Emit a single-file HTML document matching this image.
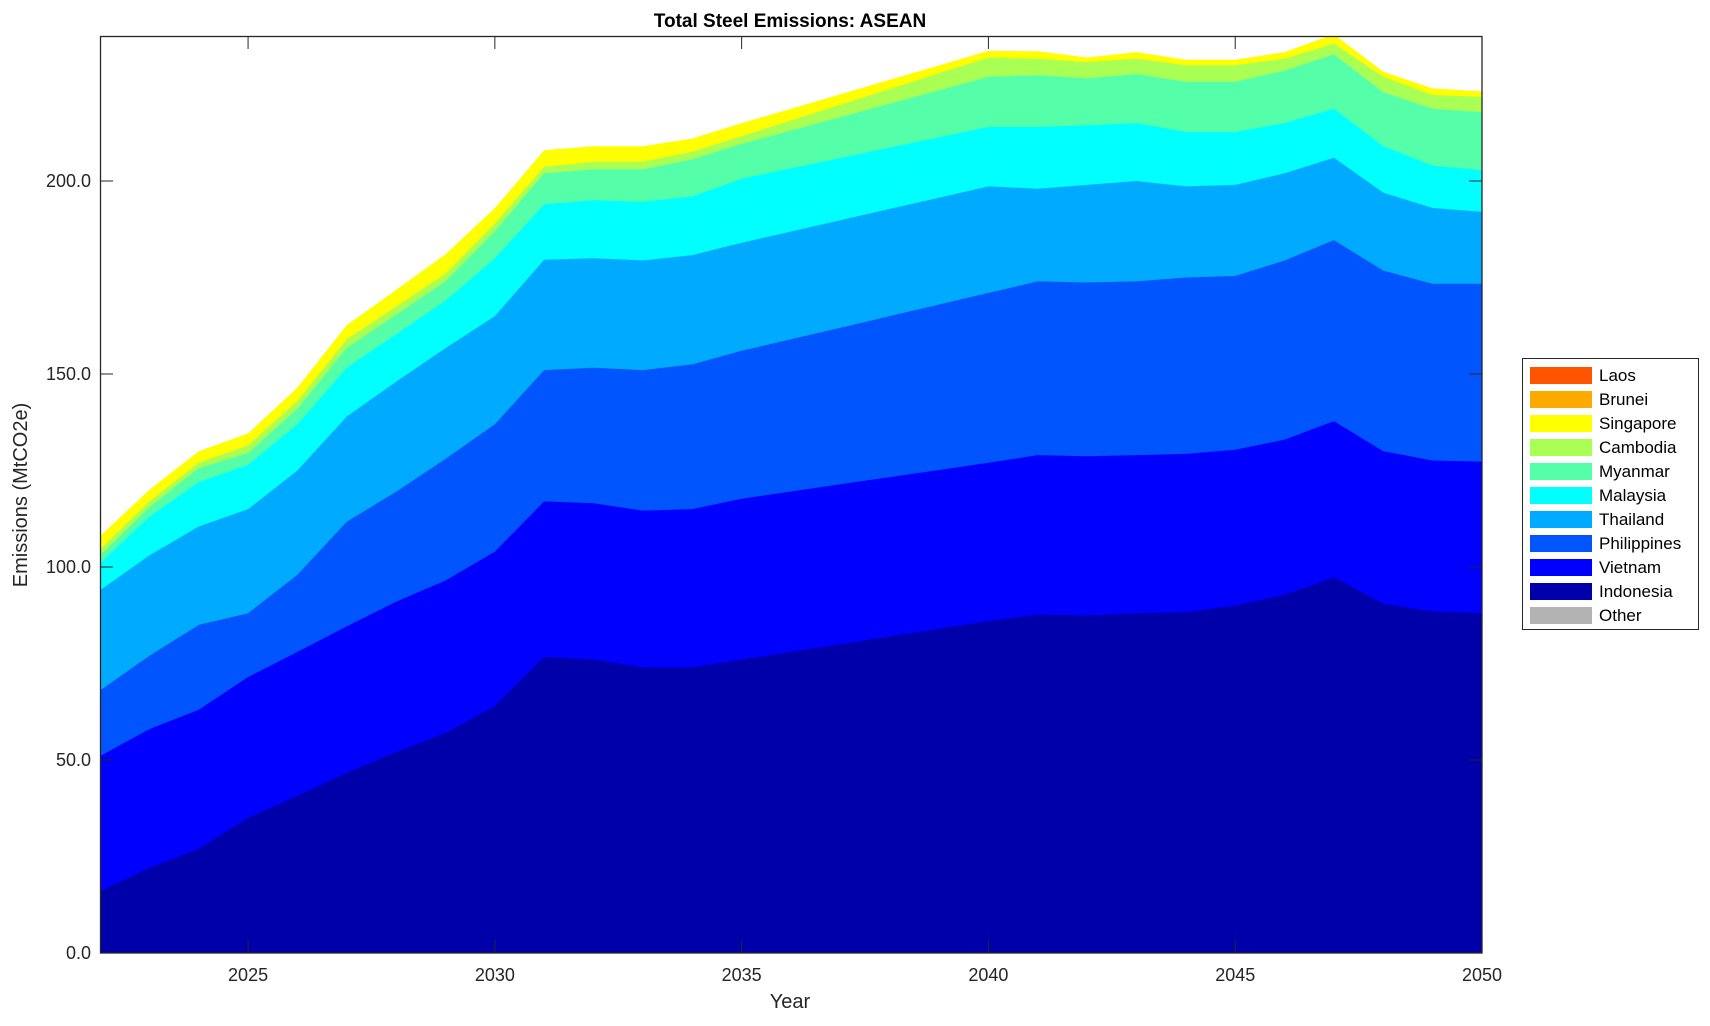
<!DOCTYPE html>
<html><head><meta charset="utf-8"><style>
body{margin:0;background:#fff;}
svg text{font-family:"Liberation Sans",Arial,sans-serif;fill:#262626;}
</style></head><body>
<svg id="s" width="1710" height="1021" xmlns="http://www.w3.org/2000/svg">
<defs><clipPath id="c"><rect x="100" y="36" width="1382" height="917"/></clipPath></defs>
<g id="areas" clip-path="url(#c)"></g>
<g id="axes"></g>
<text x="790" y="27" text-anchor="middle" font-size="19" font-weight="bold" style="fill:#000">Total Steel Emissions: ASEAN</text>
<text x="790" y="1008" text-anchor="middle" font-size="20">Year</text>
<text transform="translate(27,495) rotate(-90)" text-anchor="middle" font-size="20">Emissions (MtCO2e)</text>
<rect x="1522.5" y="358.5" width="176" height="271" fill="#fff" stroke="#262626" stroke-width="1"/>
<g id="leg"></g>
</svg>
<script>
var yrs=[],d={
2022:[16,51,68,94,101,103,104.5,108],
2023:[22,58,77,103,113,115.5,117,120],
2024:[27,63,85,110.5,122,125.6,127,130],
2025:[35,71.5,88,115,126.5,129.5,131.5,134.6],
2026:[40.7,78,98,125,137,141,143,146.5],
2027:[46.7,84.6,111.7,139,151.6,156.7,159,162.7],
2028:[52,91,119.5,148,160.3,165.4,167.5,171.8],
2029:[57,96.5,128,156.7,169,174,176,181],
2030:[64,104,137,165,180,187,189,193],
2031:[76.7,117,151,179.6,194,202,203.7,208],
2032:[76,116.5,151.6,180,195,203,205,209],
2033:[74,114.6,151,179.4,194.6,203,205,209],
2034:[74,115,152.5,180.8,196,205.6,207.6,211],
2035:[76,117.7,156,184,200.6,209.6,211.6,215],
2040:[86,127,171,198.6,214,227,232,233.7],
2041:[87.7,129,174,198,214,227.4,231.7,233.6],
2042:[87.4,128.7,173.7,199,214.4,226.6,230.8,232],
2043:[88,129,174,200,215,227.7,231.7,233.4],
2044:[88.3,129.3,175,198.6,212.7,225.7,230,231.4],
2045:[90,130.4,175.4,199,212.7,225.7,230,231.4],
2046:[92.8,133,179.4,202,215,228.6,231.7,233.4],
2047:[97.3,137.8,184.7,206,218.7,232.8,235.6,238],
2048:[90.5,130,176.8,197,209,223,227,228.3],
2049:[88.5,127.6,173.4,193,204,218.7,222.3,224],
2050:[88,127.3,173.4,192,202.8,217.8,221.8,223.2]};
for(var y=2036;y<=2039;y++){var t=(y-2035)/5;d[y]=d[2035].map(function(v,i){return v+(d[2040][i]-v)*t;});}
for(var y=2022;y<=2050;y++)yrs.push(y);
function X(y){return 100+(y-2022)*1382/28;}
function Y(v){return 953-v*3.86;}
var cols=["#0000AA","#0000FF","#0055FF","#00AAFF","#00FFFF","#55FFAA","#AAFF55","#FFFF00"];
var g=document.getElementById('areas'),h="";
for(var k=7;k>=0;k--){var p=yrs.map(function(y){return X(y).toFixed(1)+","+Y(d[y][k]).toFixed(1);});
p.push("1482,953","100,953");h+='<polygon fill="'+cols[k]+'" points="'+p.join(" ")+'"/>';}
g.innerHTML=h;
var a="";
a+='<rect x="100.5" y="36.5" width="1381.5" height="916.5" fill="none" stroke="#262626" stroke-width="1.3"/>';
for(var y=2025;y<=2050;y+=5){var x=X(y);a+='<line x1="'+x+'" y1="953" x2="'+x+'" y2="940" stroke="#262626"/><line x1="'+x+'" y1="36" x2="'+x+'" y2="49" stroke="#262626"/><text x="'+x+'" y="981" text-anchor="middle" font-size="18">'+y+'</text>';}
for(var v=0;v<=200;v+=50){var yy=Y(v);a+='<line x1="100" y1="'+yy+'" x2="113" y2="'+yy+'" stroke="#262626"/><line x1="1482" y1="'+yy+'" x2="1469" y2="'+yy+'" stroke="#262626"/><text x="91" y="'+(yy+6)+'" text-anchor="end" font-size="18">'+v.toFixed(1)+'</text>';}
document.getElementById('axes').innerHTML=a;
var names=["Laos","Brunei","Singapore","Cambodia","Myanmar","Malaysia","Thailand","Philippines","Vietnam","Indonesia","Other"];
var lc=["#FF5500","#FFAA00","#FFFF00","#AAFF55","#55FFAA","#00FFFF","#00AAFF","#0055FF","#0000FF","#0000AA","#B3B3B3"];
var l="";for(var i=0;i<11;i++){var cy=375+i*24;l+='<rect x="1530" y="'+(cy-8)+'" width="62" height="17" fill="'+lc[i]+'"/><text x="1599" y="'+(cy+6)+'" font-size="17" style="fill:#000">'+names[i]+'</text>';}
document.getElementById('leg').innerHTML=l;
</script>
</body></html>
